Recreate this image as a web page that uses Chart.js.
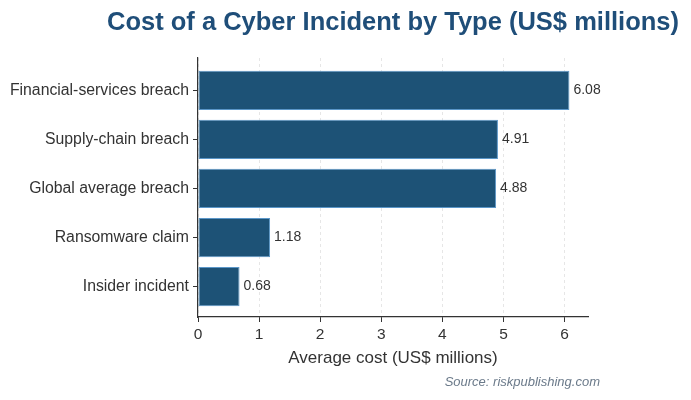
<!DOCTYPE html>
<html lang="en">
<head>
<meta charset="UTF-8">
<title>Cost of a Cyber Incident by Type</title>
<style>
  body { margin: 0; background: #ffffff; }
  .wrap { width: 691px; height: 400px; position: relative; }
</style>
<script src="https://cdn.jsdelivr.net/npm/chart.js"></script>
</head>
<body>
<div class="wrap"><canvas id="chart" width="691" height="400"></canvas></div>
<script>
// data
const categories = ['Financial-services breach', 'Supply-chain breach', 'Global average breach', 'Ransomware claim', 'Insider incident'];
const costs = [6.08, 4.91, 4.88, 1.18, 0.68];
const xTicks = [0, 1, 2, 3, 4, 5, 6];

const fontFamily = 'Arial, "Liberation Sans", sans-serif';
const textColor = '#333333';

// titles, value labels and source line
const annotate = {
  id: 'annotate',
  afterDraw(chart) {
    const ctx = chart.ctx;
    const area = chart.chartArea;
    const xs = chart.scales.x;
    const ys = chart.scales.y;
    ctx.save();

    ctx.fillStyle = '#1f4e79';
    ctx.font = 'bold 25.5px ' + fontFamily;
    ctx.textAlign = 'center';
    ctx.textBaseline = 'alphabetic';
    ctx.fillText('Cost of a Cyber Incident by Type (US$ millions)', (area.left + area.right) / 2, 30);

    ctx.fillStyle = textColor;
    ctx.font = '14px ' + fontFamily;
    ctx.textAlign = 'left';
    ctx.textBaseline = 'middle';
    costs.forEach((v, i) => {
      ctx.fillText(v.toFixed(2), xs.getPixelForValue(v) + 4, ys.getPixelForValue(i));
    });

    ctx.font = '17px ' + fontFamily;
    ctx.textAlign = 'center';
    ctx.textBaseline = 'alphabetic';
    ctx.fillText('Average cost (US$ millions)', (area.left + area.right) / 2, 363);

    ctx.fillStyle = '#6b7a8a';
    ctx.font = 'italic 13px ' + fontFamily;
    ctx.textAlign = 'right';
    ctx.fillText('Source: riskpublishing.com', 600, 386);
    ctx.restore();
  }
};

new Chart(document.getElementById('chart'), {
  type: 'bar',
  data: {
    datasets: [{
      data: costs.map((v, i) => ({ x: v, y: i })),
      backgroundColor: '#1d5276',
      borderColor: '#5a96c8',
      borderWidth: 1,
      borderSkipped: false,
      categoryPercentage: 1,
      barPercentage: 0.8
    }]
  },
  options: {
    indexAxis: 'y',
    responsive: false,
    animation: false,
    layout: { padding: { top: 58, right: 103, bottom: 0, left: 0 } },
    plugins: { legend: { display: false }, tooltip: { enabled: false }, title: { display: false } },
    scales: {
      x: {
        type: 'linear',
        min: 0,
        max: 6.384,
        afterBuildTicks: s => { s.ticks = xTicks.map(v => ({ value: v })); },
        afterFit: s => { s.height = 83; },
        ticks: { color: textColor, font: { size: 15.5, family: fontFamily }, padding: 3, maxRotation: 0 },
        grid: {
          color: '#e6e6e6',
          tickColor: textColor,
          tickBorderDash: [],
          tickLength: 5
        },
        border: { color: textColor, width: 1.2, dash: [3, 3] }
      },
      y: {
        type: 'linear',
        reverse: true,
        offset: false,
        min: -0.66,
        max: 4.62,
        afterBuildTicks: s => { s.ticks = categories.map((c, i) => ({ value: i })); },
        afterFit: s => { s.width = 198; },
        ticks: {
          color: textColor,
          font: { size: 15.8, family: fontFamily },
          padding: 4,
          callback: v => categories[v]
        },
        grid: { offset: false, drawOnChartArea: false, tickColor: textColor, tickLength: 5 },
        border: { color: textColor, width: 1.2 }
      }
    }
  },
  plugins: [annotate]
});
</script>
</body>
</html>
